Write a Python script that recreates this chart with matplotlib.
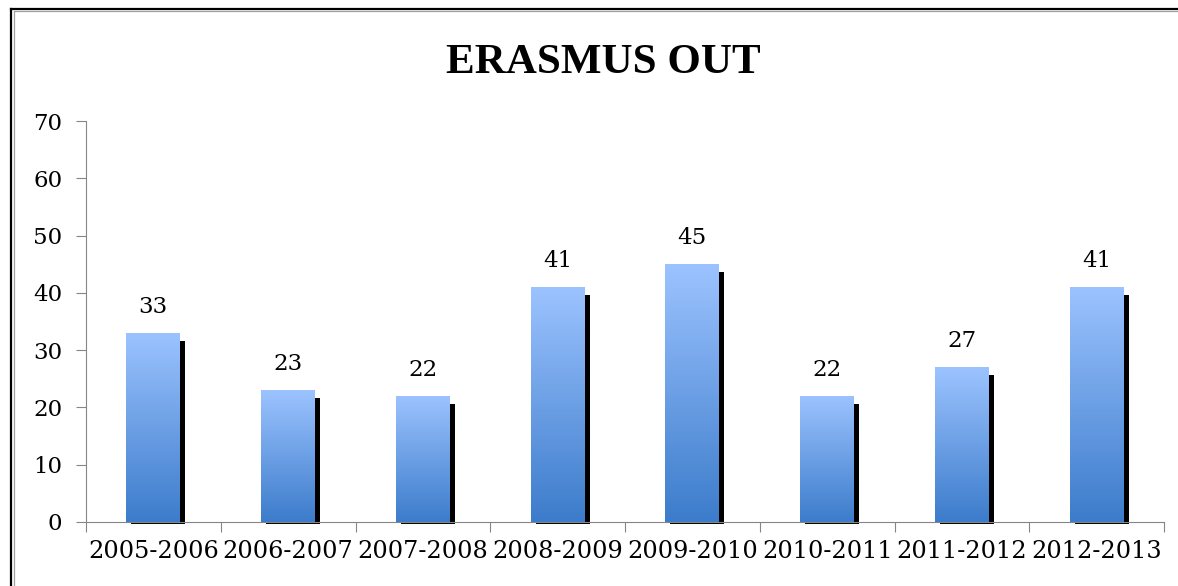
import numpy as np
import matplotlib
matplotlib.use('Agg')
import matplotlib.pyplot as plt
from matplotlib.colors import LinearSegmentedColormap
from matplotlib.lines import Line2D

years = ['2005-2006', '2006-2007', '2007-2008', '2008-2009',
         '2009-2010', '2010-2011', '2011-2012', '2012-2013']
students = [33, 23, 22, 41, 45, 22, 27, 41]
y_ticks = [0, 10, 20, 30, 40, 50, 60, 70]

W, H = 1178, 586
fig = plt.figure(figsize=(W / 100, H / 100), dpi=100)
ax = fig.add_axes([86 / W, 1 - 522 / H, (1164 - 86) / W, (522 - 121) / H])

x = np.arange(len(years))
bw = 0.40
cmap = LinearSegmentedColormap.from_list('blu', ['#3C7CCB', '#9CC3FF'])
grad = np.linspace(0, 1, 256).reshape(-1, 1)

# shadow behind each bar
ax.bar(x + 0.037, [v - 1.05 for v in students], bw, bottom=-0.35,
       color='black', zorder=2, clip_on=False)

bars = ax.bar(x, students, bw, color='none', zorder=3)
for b in bars:
    im = ax.imshow(grad, cmap=cmap, origin='lower', aspect='auto',
                   extent=[b.get_x(), b.get_x() + b.get_width(), 0, b.get_height()],
                   zorder=3)
    im.set_clip_path(b)

for xi, v in zip(x, students):
    ax.text(xi, v + 4.6, str(v), ha='center', va='center',
            family='DejaVu Serif', fontsize=16.5, color='black')

ax.set_xlim(-0.5, len(years) - 0.5)
ax.set_ylim(0, 70)
ax.set_yticks(y_ticks)
ax.set_xticks(np.arange(len(years) + 1) - 0.5, minor=False)
ax.set_xticklabels([])
ax.set_xticks(x, minor=True)
ax.set_xticklabels(years, minor=True, family='DejaVu Serif', fontsize=17.3)
ax.tick_params(axis='x', which='minor', length=0, pad=13)
ax.tick_params(axis='x', which='major', length=7, color='#868686')
ax.tick_params(axis='y', length=7, color='#868686', pad=10)
for lbl in ax.get_yticklabels():
    lbl.set_family('DejaVu Serif')
    lbl.set_fontsize(16.5)

for s in ['top', 'right']:
    ax.spines[s].set_visible(False)
for s in ['left', 'bottom']:
    ax.spines[s].set_color('#868686')

fig.text(603 / W, 1 - 63 / H, 'ERASMUS OUT', ha='center', va='center',
         family='Liberation Serif', fontweight='bold', fontsize=31)

# chart frame (top and left edges)
fig.add_artist(Line2D([11 / W, 1], [1 - 9 / H, 1 - 9 / H], color='black', lw=1.6))
fig.add_artist(Line2D([11 / W, 11 / W], [0, 1 - 9 / H], color='black', lw=1.6))
fig.add_artist(Line2D([13.5 / W, 1], [1 - 11.3 / H, 1 - 11.3 / H], color='#a0a0a0', lw=0.9))
fig.add_artist(Line2D([13.5 / W, 13.5 / W], [0, 1 - 11.3 / H], color='#a0a0a0', lw=0.9))

fig.savefig('out.png', dpi=100)
